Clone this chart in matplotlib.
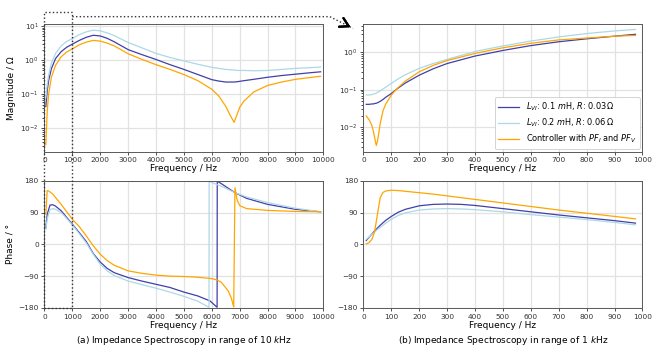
import matplotlib
matplotlib.use("Agg")
import matplotlib.pyplot as plt
from matplotlib.lines import Line2D
from matplotlib.patches import Rectangle
from matplotlib import transforms

# ---- 10 kHz sweep, magnitude (Ohm) ----
freq_10k = [50, 100, 150, 250, 400, 600, 800, 1000, 1250, 1500, 1750, 2000, 2250, 2500,
            3000, 3500, 4000, 4500, 5000, 5500, 6000, 6250, 6500, 6650, 6800, 6900, 7000,
            7150, 7500, 8000, 8500, 9000, 9500, 9900]
mag_10k_a = [0.0437, 0.126, 0.251, 0.562, 1.12, 1.78, 2.40, 2.95, 3.80, 4.68, 5.37, 5.13,
             4.37, 3.47, 2.04, 1.45, 1.05, 0.741, 0.537, 0.380, 0.269, 0.245, 0.229, 0.229,
             0.229, 0.234, 0.240, 0.251, 0.275, 0.316, 0.355, 0.389, 0.427, 0.457]
mag_10k_b = [0.0794, 0.200, 0.355, 0.832, 1.58, 2.63, 3.55, 4.27, 5.62, 6.76, 7.59, 7.24,
             6.31, 5.25, 3.31, 2.29, 1.58, 1.20, 0.955, 0.759, 0.617, 0.575, 0.537, 0.525,
             0.513, 0.501, 0.501, 0.501, 0.490, 0.501, 0.537, 0.575, 0.603, 0.631]
mag_10k_c = [0.00331, 0.0316, 0.100, 0.316, 0.708, 1.26, 1.74, 2.14, 2.82, 3.39, 3.80, 3.63,
             3.16, 2.63, 1.55, 1.05, 0.741, 0.537, 0.380, 0.251, 0.141, 0.0891, 0.0447,
             0.0251, 0.0151, 0.0251, 0.0417, 0.0631, 0.117, 0.182, 0.229, 0.275, 0.309, 0.339]

# ---- 10 kHz sweep, phase (deg), each curve wraps at its own frequency ----
fph_10k_a = [50, 100, 200, 300, 400, 600, 800, 1000, 1250, 1500, 1750, 2000, 2250, 2500,
             3000, 3500, 4000, 4500, 5000, 5500, 5935, 6190, 6195, 6410, 6830, 7250, 8000,
             9000, 9900]
ph_10k_a = [47, 85, 111, 112, 108, 95, 76, 57, 33, 8, -26, -50, -68, -80,
            -94, -104, -113, -122, -135, -146, -160, -178, 179, 168, 146, 130, 113,
            99, 92]
fph_10k_b = [50, 100, 200, 300, 400, 600, 800, 1000, 1250, 1500, 1750, 2000, 2250, 2500,
             3000, 3500, 4000, 4500, 5000, 5500, 5900, 5905, 6410, 6830, 7250, 8000,
             9000, 9900]
ph_10k_b = [42, 72, 98, 101, 99, 90, 73, 55, 30, 4, -28, -56, -75, -88,
            -104, -114, -124, -135, -147, -161, -178, 178, 162, 146, 134, 118,
            102, 92]
fph_10k_c = [50, 100, 150, 300, 600, 800, 1000, 1250, 1500, 1750, 2000, 2250, 2500,
             3000, 3500, 4000, 4500, 5000, 5500, 6000, 6200, 6350, 6590, 6700, 6760,
             6785, 6830, 6915, 7010, 7250, 8000, 9000, 9900]
ph_10k_c = [85, 152, 151, 142, 113, 92, 71, 50, 24, -4, -28, -46, -59,
            -75, -82, -87, -90, -91, -93, -97, -101, -108, -132, -152, -170,
            -177, 160, 123, 109, 101, 96, 93, 92]

# ---- 1 kHz sweep ----
freq_1k = [10, 20, 30, 35, 40, 46, 50, 55, 60, 70, 80, 100, 120, 150, 200, 250, 300,
           400, 500, 600, 700, 800, 900, 975]
mag_1k_a = [0.0407, 0.0407, 0.0417, 0.0417, 0.0427, 0.0437, 0.0447, 0.0468, 0.0490,
            0.0550, 0.0631, 0.0794, 0.105, 0.151, 0.245, 0.363, 0.501, 0.794, 1.12,
            1.51, 1.91, 2.29, 2.69, 3.02]
mag_1k_b = [0.0724, 0.0724, 0.0741, 0.0759, 0.0776, 0.0813, 0.0851, 0.0891, 0.0933,
            0.105, 0.117, 0.148, 0.186, 0.251, 0.372, 0.501, 0.646, 1.05, 1.48, 2.00,
            2.57, 3.16, 3.72, 4.07]
mag_1k_c = [0.0200, 0.0158, 0.0112, 0.00794, 0.00525, 0.00324, 0.00417, 0.00708, 0.0126,
            0.0275, 0.0417, 0.0724, 0.107, 0.170, 0.302, 0.447, 0.603, 0.933, 1.32,
            1.74, 2.14, 2.40, 2.69, 2.82]

fph_1k = [10, 20, 30, 40, 50, 60, 70, 80, 100, 125, 150, 200, 250, 300, 350, 400,
          500, 600, 700, 800, 900, 975]
ph_1k_a = [11, 20, 29, 38, 46, 54, 61, 68, 79, 91, 99, 109, 113, 114, 113, 110,
           101, 92, 83, 75, 67, 60]
ph_1k_b = [14, 21, 28, 35, 42, 48, 54, 60, 71, 82, 89, 97, 100, 101, 100, 98,
           92, 84, 77, 70, 62, 55]
ph_1k_c = [1, 5, 14, 36, 85, 132, 147, 151, 153, 152, 150, 146, 142, 137, 132, 127,
           117, 107, 97, 88, 79, 72]

labels = [r"$L_{VI}$: 0.1 $m$H, $R$: 0.03$\,\Omega$",
          r"$L_{VI}$: 0.2 $m$H, $R$: 0.06$\,\Omega$",
          r"Controller with $PF_I$ and $PF_V$"]
colors = ["#4040aa", "#add8e6", "#ffa500"]

plt.rcParams["font.family"] = "DejaVu Sans"
plt.rcParams["axes.edgecolor"] = "0.35"
plt.rcParams["axes.linewidth"] = 0.7

fig = plt.figure(figsize=(6.65, 3.47), dpi=100)
ax_m10 = fig.add_axes([0.0668, 0.5634, 0.4195, 0.3674])
ax_p10 = fig.add_axes([0.0668, 0.1124, 0.4195, 0.3669])
ax_m1 = fig.add_axes([0.5466, 0.5634, 0.4195, 0.3674])
ax_p1 = fig.add_axes([0.5466, 0.1124, 0.4195, 0.3669])

lw = 0.9
for mag, c in zip([mag_10k_a, mag_10k_b, mag_10k_c], colors):
    ax_m10.plot(freq_10k, mag, color=c, lw=lw)
for f, ph, c in zip([fph_10k_a, fph_10k_b, fph_10k_c], [ph_10k_a, ph_10k_b, ph_10k_c], colors):
    ax_p10.plot(f, ph, color=c, lw=lw)
for mag, c, lab in zip([mag_1k_a, mag_1k_b, mag_1k_c], colors, labels):
    ax_m1.plot(freq_1k, mag, color=c, lw=lw, label=lab)
for ph, c in zip([ph_1k_a, ph_1k_b, ph_1k_c], colors):
    ax_p1.plot(fph_1k, ph, color=c, lw=lw)

for ax in [ax_m10, ax_m1]:
    ax.set_yscale("log")
ax_m10.set_ylim(10 ** -2.675, 10 ** 1.06)
ax_m1.set_ylim(10 ** -2.65, 10 ** 0.755)

for ax in [ax_m10, ax_p10]:
    ax.set_xlim(0, 10000)
    ax.set_xticks(range(0, 10001, 1000))
for ax in [ax_m1, ax_p1]:
    ax.set_xlim(0, 1000)
    ax.set_xticks(range(0, 1001, 100))
for ax in [ax_p10, ax_p1]:
    ax.set_ylim(-180, 180)
    ax.set_yticks([-180, -90, 0, 90, 180])

for ax in [ax_m10, ax_p10, ax_m1, ax_p1]:
    ax.grid(True, which="major", color="#e2e2e2", lw=0.9)
    ax.set_axisbelow(True)
    ax.tick_params(labelsize=5.3, length=2.5, width=0.6, pad=1.5, colors="0.2")
    ax.tick_params(which="minor", length=1.5, width=0.5)
    ax.set_xlabel("Frequency / Hz", fontsize=6.5, labelpad=1)

ax_m10.set_ylabel("Magnitude / Ω", fontsize=6.5, labelpad=3)
ax_p10.set_ylabel("Phase / °", fontsize=6.5, labelpad=3)

leg = ax_m1.legend(loc="lower right", fontsize=5.9, handlelength=2.6,
                   borderaxespad=0.35, labelspacing=0.45, framealpha=1)
leg.get_frame().set_linewidth(0.6)

fig.text(0.2766, 0.0173, "(a) Impedance Spectroscopy in range of 10 $k$Hz",
         ha="center", va="center", fontsize=6.5)
fig.text(0.7564, 0.0173, "(b) Impedance Spectroscopy in range of 1 $k$Hz",
         ha="center", va="center", fontsize=6.5)

# zoom box (0 - 1 kHz) and pointer to the right column
trans = transforms.blended_transform_factory(ax_m10.transData, fig.transFigure)
rect = Rectangle((0, 0.1124), 1000, 0.966 - 0.1124, transform=trans, fill=False,
                 ls=":", lw=1.0, ec="#333333", clip_on=False)
fig.add_artist(rect)
x_box = 0.0668 + 0.4195 * 0.1
corner = (0.496, 0.952)
tip = (0.531, 0.918)
fig.add_artist(Line2D([x_box, corner[0], tip[0]], [corner[1], corner[1], tip[1]],
                      transform=fig.transFigure, ls=":", lw=1.0, color="#333333"))
fig.add_artist(plt.annotate("", xy=tip, xytext=(tip[0] - 0.012, tip[1] + 0.0117),
                            xycoords="figure fraction", textcoords="figure fraction",
                            arrowprops=dict(arrowstyle="->,head_length=0.6,head_width=0.35",
                                            lw=1.6, color="black")))

plt.savefig("out.png", dpi=100, facecolor="white")
